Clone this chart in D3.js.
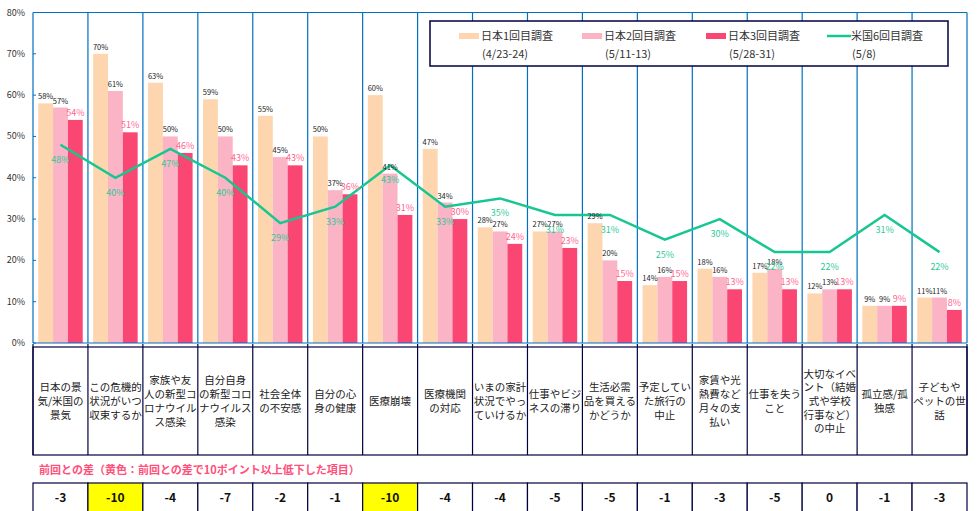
<!DOCTYPE html>
<head>
  <meta charset="utf-8">
  <script src="https://d3js.org/d3.v7.min.js"></script>
</head>
<style>
  body { margin: 0; background: #fff; }
  text { font-family: "Noto Sans CJK JP", "Noto Sans", sans-serif; }
</style>
<body>
  <svg id="chart"></svg>
</body>
<script>
  var w = 979;
  var h = 511;
  var margin = {top: 12.5, left: 33, right: 12, bottom: 168};

  // data
  var categories = [
    ["日本の景", "気/米国の", "景気"],
    ["この危機的", "状況がいつ", "収束するか"],
    ["家族や友", "人の新型コ", "ロナウイル", "ス感染"],
    ["自分自身", "の新型コロ", "ナウイルス", "感染"],
    ["社会全体", "の不安感"],
    ["自分の心", "身の健康"],
    ["医療崩壊"],
    ["医療機関", "の対応"],
    ["いまの家計", "状況でやっ", "ていけるか"],
    ["仕事やビジ", "ネスの滞り"],
    ["生活必需", "品を買える", "かどうか"],
    ["予定してい", "た旅行の", "中止"],
    ["家賃や光", "熱費など", "月々の支", "払い"],
    ["仕事を失う", "こと"],
    ["大切なイベ", "ント（結婚", "式や学校", "行事など）", "の中止"],
    ["孤立感/孤", "独感"],
    ["子どもや", "ペットの世", "話"]
  ];
  var japan1 = [58, 70, 63, 59, 55, 50, 60, 47, 28, 27, 29, 14, 18, 17, 12, 9, 11];
  var japan2 = [57, 61, 50, 50, 45, 37, 41, 34, 27, 27, 20, 16, 16, 18, 13, 9, 11];
  var japan3 = [54, 51, 46, 43, 43, 36, 31, 30, 24, 23, 15, 15, 13, 13, 13, 9, 8];
  var us6 = [48, 40, 47, 40, 29, 33, 43, 33, 35, 31, 31, 25, 30, 22, 22, 31, 22];
  var diffs = [-3, -10, -4, -7, -2, -1, -10, -4, -4, -5, -5, -1, -3, -5, 0, -1, -3];
  var yTicks = [0, 10, 20, 30, 40, 50, 60, 70, 80];

  var seriesNames = ["日本1回目調査", "日本2回目調査", "日本3回目調査", "米国6回目調査"];
  var seriesDates = ["(4/23-24)", "(5/11-13)", "(5/28-31)", "(5/8)"];
  var noteText = "前回との差（黄色：前回との差で10ポイント以上低下した項目）";

  var barColors = ["#FDD6AF", "#FAB4C6", "#FA4673"];
  var lineColor = "#17C690";
  var navy = "#000040";
  var blue = "#0070C0";

  var svg = d3.select("#chart").attr("width", w).attr("height", h);

  var plotBottom = h - margin.bottom; // 343
  var idx = d3.range(categories.length);

  var x0 = d3.scaleBand().domain(idx).range([margin.left, w - margin.right]);
  var bw = x0.bandwidth();
  var x1 = d3.scaleBand().domain([0, 1, 2]).range([bw * 0.095, bw * 0.905]);
  var y = d3.scaleLinear().domain([0, 80]).range([plotBottom, margin.top]);

  // y axis labels
  svg.append("g").selectAll("text")
    .data(yTicks)
    .enter().append("text")
    .attr("x", 25)
    .attr("y", function(d){ return y(d) + 3; })
    .attr("text-anchor", "end")
    .style("font-size", "9px")
    .style("fill", "#333")
    .text(function(d){ return d + "%"; });

  // small ticks on left axis
  svg.append("g").selectAll("line")
    .data(yTicks)
    .enter().append("line")
    .attr("x1", margin.left).attr("x2", margin.left + 3)
    .attr("y1", function(d){ return y(d); }).attr("y2", function(d){ return y(d); })
    .style("stroke", blue);

  // bars
  var seriesVals = [japan1, japan2, japan3];
  seriesVals.forEach(function(vals, s){
    svg.append("g").selectAll("rect")
      .data(vals)
      .enter().append("rect")
      .attr("x", function(d, i){ return x0(i) + x1(s); })
      .attr("y", function(d){ return y(d); })
      .attr("width", x1.bandwidth())
      .attr("height", function(d){ return plotBottom - y(d); })
      .style("fill", barColors[s]);
  });

  // category grid lines (blue)
  var grid = svg.append("g");
  grid.selectAll("line")
    .data(d3.range(categories.length + 1))
    .enter().append("line")
    .attr("x1", function(i){ return margin.left + i * bw; })
    .attr("x2", function(i){ return margin.left + i * bw; })
    .attr("y1", margin.top).attr("y2", plotBottom)
    .style("stroke", blue).style("stroke-width", 1.2);
  grid.append("line")
    .attr("x1", margin.left).attr("x2", w - margin.right)
    .attr("y1", margin.top).attr("y2", margin.top)
    .style("stroke", blue).style("stroke-width", 1.2);
  grid.append("line")
    .attr("x1", margin.left).attr("x2", w - margin.right)
    .attr("y1", plotBottom).attr("y2", plotBottom)
    .style("stroke", blue).style("stroke-width", 1.2);

  // US line
  var line = d3.line()
    .x(function(d, i){ return x0(i) + bw / 2; })
    .y(function(d){ return y(d); });
  svg.append("path")
    .datum(us6)
    .attr("d", line)
    .style("fill", "none")
    .style("stroke", lineColor)
    .style("stroke-width", 2.5);

  // bar labels
  seriesVals.forEach(function(vals, s){
    svg.append("g").selectAll("text")
      .data(vals)
      .enter().append("text")
      .attr("x", function(d, i){ return x0(i) + x1(s) + x1.bandwidth() / 2; })
      .attr("y", function(d){ return y(d) - 4; })
      .attr("text-anchor", "middle")
      .style("font-size", s == 2 ? "9px" : "7.5px")
      .style("fill", s == 2 ? "#FF6690" : "#222")
      .text(function(d){ return d + "%"; });
  });

  // US labels
  svg.append("g").selectAll("text")
    .data(us6)
    .enter().append("text")
    .attr("x", function(d, i){ return x0(i) + bw / 2; })
    .attr("y", function(d){ return y(d) + 18; })
    .attr("text-anchor", "middle")
    .style("font-size", "9px")
    .style("fill", "#2DCB96")
    .text(function(d){ return d + "%"; });

  // legend
  var lg = svg.append("g");
  lg.append("rect")
    .attr("x", 430).attr("y", 21).attr("width", 518).attr("height", 45)
    .style("fill", "#fff").style("stroke", navy).style("stroke-width", 1.5);
  var legendX = [459, 582, 706, 827];
  seriesNames.forEach(function(name, s){
    var lx = legendX[s];
    if (s < 3) {
      lg.append("rect").attr("x", lx).attr("y", 33).attr("width", 20).attr("height", 6)
        .style("fill", barColors[s]);
    } else {
      lg.append("line").attr("x1", lx).attr("x2", lx + 24).attr("y1", 36).attr("y2", 36)
        .style("stroke", lineColor).style("stroke-width", 2.5);
    }
    var tx = s < 3 ? lx + 22 : lx + 24;
    lg.append("text").attr("x", tx).attr("y", 40)
      .style("font-size", "11px").style("fill", "#333").text(name);
    lg.append("text").attr("x", tx + 1).attr("y", 58)
      .style("font-size", "11px").style("fill", "#333").text(seriesDates[s]);
  });

  // category table
  var tableTop = 347, tableBottom = 455;
  var tbl = svg.append("g");
  tbl.selectAll("line.tick")
    .data(d3.range(categories.length + 1))
    .enter().append("line")
    .attr("x1", function(i){ return margin.left + i * bw; })
    .attr("x2", function(i){ return margin.left + i * bw; })
    .attr("y1", plotBottom + 1).attr("y2", tableBottom)
    .style("stroke", navy).style("stroke-width", 1.2);
  tbl.append("rect")
    .attr("x", margin.left).attr("y", tableTop)
    .attr("width", w - margin.right - margin.left).attr("height", tableBottom - tableTop)
    .style("fill", "none").style("stroke", navy).style("stroke-width", 1.2);

  var lh = 13.7;
  categories.forEach(function(lines, i){
    var cy = (tableTop + tableBottom) / 2;
    var startY = cy - (lines.length - 1) * lh / 2 + 4;
    var t = tbl.append("text")
      .attr("text-anchor", "middle")
      .style("font-size", "10.5px")
      .style("fill", "#222");
    lines.forEach(function(l, k){
      t.append("tspan")
        .attr("x", x0(i) + bw / 2)
        .attr("y", startY + k * lh)
        .text(l);
    });
  });

  // note
  svg.append("text")
    .attr("x", 39).attr("y", 474)
    .style("font-size", "11px").style("font-weight", "bold")
    .style("fill", "#FF4F7B")
    .text(noteText);

  // diff row
  var diffTop = 483, diffBottom = 512;
  var dg = svg.append("g");
  dg.selectAll("rect")
    .data(diffs)
    .enter().append("rect")
    .attr("x", function(d, i){ return x0(i); })
    .attr("y", diffTop)
    .attr("width", bw).attr("height", diffBottom - diffTop)
    .style("fill", function(d){ return d <= -10 ? "#FFFF00" : "#fff"; })
    .style("stroke", navy).style("stroke-width", 1.2);
  dg.selectAll("text")
    .data(diffs)
    .enter().append("text")
    .attr("x", function(d, i){ return x0(i) + bw / 2; })
    .attr("y", 502)
    .attr("text-anchor", "middle")
    .style("font-size", "12px").style("font-weight", "bold")
    .style("fill", "#111")
    .text(function(d){ return d; });
</script>
